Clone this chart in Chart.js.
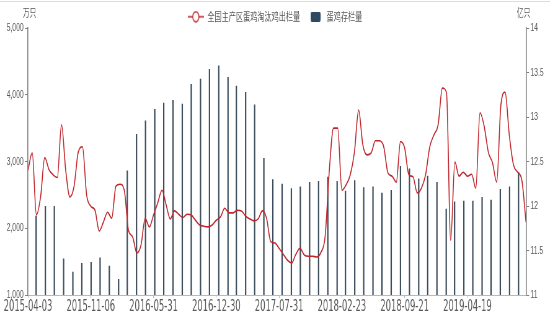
<!DOCTYPE html>
<html>
<head>
<meta charset="utf-8">
<script src="https://cdn.jsdelivr.net/npm/chart.js@4.4.1/dist/chart.umd.min.js"></script>
<style>
    html, body { margin: 0; padding: 0; background: #fff; overflow: hidden; }
    #wrap { position: relative; width: 550px; height: 322px; overflow: hidden; }
    #topline { position: absolute; left: 0; top: 1px; width: 550px; height: 1px; background: #dcdcdc; }
    #chart { position: absolute; left: 0; top: 0; transform: scaleX(0.62); transform-origin: 0 0; }
</style>
</head>
<body>
<div id="wrap">
    <canvas id="chart" width="887" height="322"></canvas>
    <div id="topline"></div>
</div>
<script>
// x axis is in weeks from 2015-04-03
const tickWeeks = [0, 30, 60, 90, 120, 150, 180, 210];
const tickLabels = ['2015-04-03', '2015-11-06', '2016-05-31', '2016-12-30',
    '2017-07-31', '2018-02-23', '2018-09-21', '2019-04-19'];

// 全国主产区蛋鸡淘汰鸡出栏量 (万只), one reading every 2 weeks
const lineStepWeeks = 2;
const lineValues = [
    2870, 3130, 2200, 2470, 3060, 2880, 2800, 2760, 3550, 2870,
    2470, 2630, 3140, 3220, 2500, 2330, 2270, 1960, 2090, 2240,
    2150, 2630, 2660, 2570, 1970, 1870, 1630, 1750, 2150, 2020,
    2200, 2380, 2570, 2350, 2140, 2260, 2210, 2160, 2210, 2200,
    2120, 2050, 2030, 2020, 2050, 2120, 2170, 2300, 2230, 2230,
    2270, 2260, 2180, 2140, 2110, 2140, 2260, 2150, 1800, 1780,
    1700, 1610, 1520, 1480, 1610, 1700, 1600, 1580, 1580, 1570,
    1640, 1880, 2870, 3500, 3500, 2570, 2650, 2800, 3140, 3770,
    3250, 3100, 3130, 3310, 3310, 3220, 2830, 2780, 2690, 3300,
    3200, 2800, 2770, 2530, 2600, 2800, 3220, 3400, 3550, 4100,
    4030, 1820, 2990, 2780, 2840, 2780, 2810, 2600, 3730, 3530,
    3140, 2980, 2690, 3850, 4040, 3400, 2950, 2840, 2720, 2090
];

// 蛋鸡存栏量 (亿只), month end
const barMonths = [
    '2015-04', '2015-05', '2015-06', '2015-07', '2015-08', '2015-09', '2015-10', '2015-11', '2015-12',
    '2016-01', '2016-02', '2016-03', '2016-04', '2016-05', '2016-06', '2016-07', '2016-08', '2016-09',
    '2016-10', '2016-11', '2016-12', '2017-01', '2017-02', '2017-03', '2017-04', '2017-05', '2017-06',
    '2017-07', '2017-08', '2017-09', '2017-10', '2017-11', '2017-12', '2018-01', '2018-02', '2018-03',
    '2018-04', '2018-05', '2018-06', '2018-07', '2018-08', '2018-09', '2018-10', '2018-11', '2018-12',
    '2019-01', '2019-02', '2019-03', '2019-04', '2019-05', '2019-06', '2019-07', '2019-08', '2019-09'
];
const barValues = [
    11.89, 12.0, 12.0, 11.41, 11.26, 11.36, 11.37, 11.42, 11.33,
    11.18, 12.40, 12.81, 12.96, 13.09, 13.16, 13.19, 13.15, 13.37,
    13.43, 13.54, 13.58, 13.45, 13.35, 13.28, 13.14, 12.54, 12.30,
    12.25, 12.20, 12.22, 12.27, 12.28, 12.33, 12.28, 12.17, 12.29,
    12.21, 12.22, 12.15, 12.18, 12.45, 12.42, 12.31, 12.34, 12.27,
    11.97, 12.05, 12.06, 12.06, 12.10, 12.07, 12.19, 12.22, 12.38
];

const startDay = Date.UTC(2015, 3, 3);
function weeksToMonthEnd(ym) {
    const parts = ym.split('-').map(Number);
    return (Date.UTC(parts[0], parts[1], 0) - startDay) / 864e5 / 7;
}

const RED = '#bf262c';
const BAR = '#3c4d5d';
const TEXT = '#595959';
const AXIS = '#808080';
const BLUE = '#8fc4e3';
const CJK = '"Noto Sans CJK SC", "Noto Sans", sans-serif';

// legend markers
function lineMark() {
    const c = document.createElement('canvas');
    c.width = 26; c.height = 12;
    const g = c.getContext('2d');
    g.strokeStyle = RED; g.lineWidth = 1.5;
    g.beginPath(); g.moveTo(0, 6); g.lineTo(26, 6); g.stroke();
    g.fillStyle = '#fff';
    g.beginPath(); g.arc(13, 6, 5, 0, Math.PI * 2); g.fill(); g.stroke();
    return c;
}
function barMark() {
    const c = document.createElement('canvas');
    c.width = 26; c.height = 10;
    const g = c.getContext('2d');
    g.fillStyle = '#2e4a62';
    g.beginPath(); g.roundRect(6, 0, 16, 10, 2); g.fill();
    return c;
}
const marks = [lineMark(), barMark()];

const unitTitles = {
    id: 'unitTitles',
    afterDraw(chart) {
        const ctx = chart.ctx, area = chart.chartArea;
        ctx.save();
        ctx.font = '11px ' + CJK;
        ctx.fillStyle = TEXT;
        ctx.textAlign = 'center';
        ctx.textBaseline = 'middle';
        ctx.fillText('万只', area.left + 2.5, 13);
        ctx.fillText('亿只', area.right - 4, 13);
        ctx.restore();
    }
};

const yFont = { family: '"Liberation Sans", Arial, sans-serif', size: 11 };
const yGrid = { drawOnChartArea: false, tickLength: 5, color: AXIS, lineWidth: 1 };

new Chart(document.getElementById('chart'), {
    type: 'bar',
    data: {
        datasets: [{
            type: 'line',
            label: '全国主产区蛋鸡淘汰鸡出栏量',
            data: lineValues.map(function (v, i) { return { x: i * lineStepWeeks, y: v }; }),
            yAxisID: 'y',
            borderColor: RED,
            backgroundColor: '#fff',
            borderWidth: 1.6,
            pointRadius: 0,
            cubicInterpolationMode: 'monotone'
        }, {
            type: 'bar',
            label: '蛋鸡存栏量',
            data: barMonths.map(function (m, i) { return { x: weeksToMonthEnd(m), y: barValues[i] }; }),
            yAxisID: 'y1',
            backgroundColor: BAR,
            grouped: false,
            maxBarThickness: 2.2
        }]
    },
    options: {
        responsive: false,
        animation: false,
        layout: { padding: 0 },
        plugins: {
            tooltip: { enabled: false },
            legend: {
                position: 'top',
                maxHeight: 28,
                labels: {
                    usePointStyle: true,
                    pointStyleWidth: 26,
                    boxHeight: 10,
                    padding: 11,
                    color: TEXT,
                    font: { family: CJK, size: 11.5 },
                    generateLabels: function (chart) {
                        const items = Chart.defaults.plugins.legend.labels.generateLabels(chart);
                        items.forEach(function (it, i) { it.pointStyle = marks[i]; it.fontColor = TEXT; });
                        return items;
                    }
                }
            }
        },
        scales: {
            x: {
                type: 'linear',
                min: 0,
                max: 238,
                offset: false,
                afterBuildTicks: function (s) { s.ticks = tickWeeks.map(function (v) { return { value: v }; }); },
                afterFit: function (s) { s.height = 27; },
                ticks: {
                    autoSkip: false,
                    maxRotation: 0,
                    padding: 0,
                    color: TEXT,
                    font: { family: '"Liberation Sans Narrow", "DejaVu Sans Condensed", sans-serif', size: 15 },
                    callback: function (v, i) { return tickLabels[i]; }
                },
                grid: { offset: false, drawOnChartArea: false, tickLength: 3, color: BLUE },
                border: { color: BLUE, width: 1 }
            },
            y: {
                position: 'left',
                min: 1000,
                max: 5000,
                afterFit: function (s) { s.width = 45.2; },
                ticks: { stepSize: 1000, font: yFont, color: TEXT, padding: 2 },
                grid: yGrid,
                border: { color: AXIS, width: 1.6 }
            },
            y1: {
                position: 'right',
                min: 11,
                max: 14,
                afterFit: function (s) { s.width = 38.6; },
                ticks: {
                    stepSize: 0.5, font: yFont, color: TEXT, padding: 2,
                    callback: function (v) { return String(v); }
                },
                grid: yGrid,
                border: { color: AXIS, width: 1.6 }
            }
        }
    },
    plugins: [unitTitles]
});
</script>
</body>
</html>
